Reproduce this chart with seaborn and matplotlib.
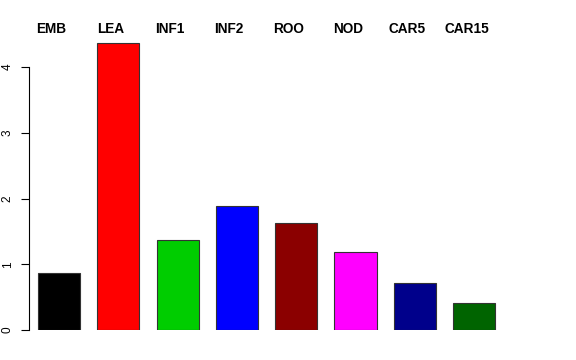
import matplotlib
matplotlib.use("Agg")
import matplotlib.pyplot as plt
import seaborn as sns
import pandas as pd

categories = ["EMB", "LEA", "INF1", "INF2", "ROO", "NOD", "CAR5", "CAR15"]
values = [0.867, 4.365, 1.369, 1.886, 1.627, 1.186, 0.715, 0.41]
colors = ["#000000", "#FF0000", "#00CD00", "#0000FF", "#8B0000", "#FF00FF", "#00008B", "#006400"]
yticks = [0, 1, 2, 3, 4]

sns.set_style("white")
plt.rcParams['font.family'] = ['Liberation Sans', 'DejaVu Sans']
plt.rcParams['text.color'] = 'black'
plt.rcParams['ytick.color'] = 'black'

df = pd.DataFrame({"cat": categories, "val": values})

fig = plt.figure(figsize=(5.76, 3.6), dpi=100)
ax = fig.add_axes([29/576, 30/360, 474.8/576, 4.5*65.75/360])

sns.barplot(data=df, x="cat", y="val", hue="cat", palette=colors, order=categories,
            hue_order=categories, width=0.71, edgecolor="#333333", linewidth=0.8,
            legend=False, ax=ax, saturation=1)

ax.set_xlim(-0.506, 7.5)
ax.set_ylim(0, 4.5)
ax.set_xlabel("")
ax.set_ylabel("")
ax.set_xticks([])
ax.set_yticks(yticks)
ax.set_yticklabels([str(t) for t in yticks], rotation=90, va="center", fontsize=8.5, color="black")
ax.tick_params(axis="y", length=6, width=0.8, pad=5, color="black", left=True, labelcolor="black")

for s in ["top", "right", "bottom"]:
    ax.spines[s].set_visible(False)
ax.spines["left"].set_bounds(0, 4)
ax.spines["left"].set_linewidth(0.8)
ax.spines["left"].set_color("black")

for i, c in enumerate(categories):
    ax.text(i - 0.13, 4.58, c, ha="center", va="center", fontsize=9.8,
            fontweight="bold", color="black", clip_on=False)

fig.savefig("out.png", dpi=100)
